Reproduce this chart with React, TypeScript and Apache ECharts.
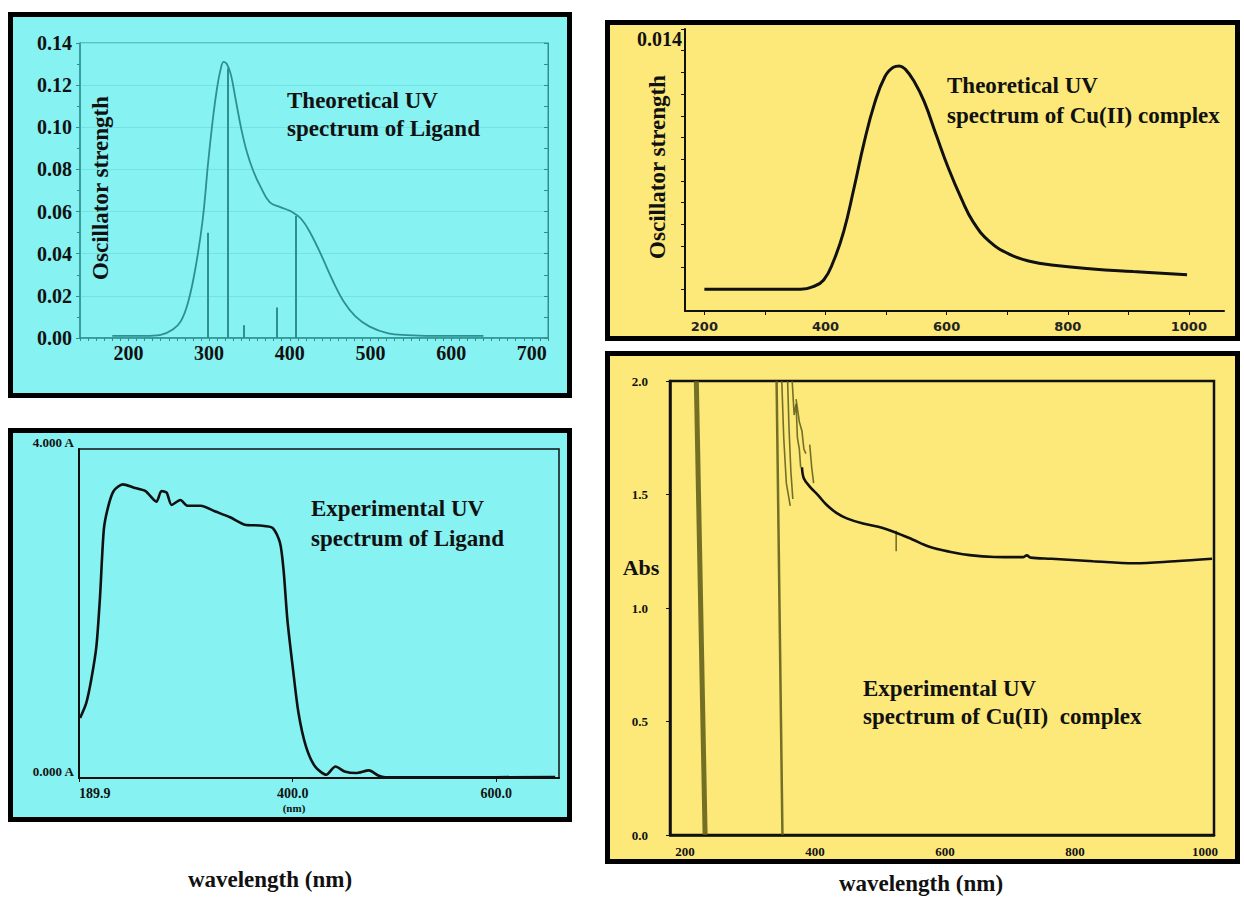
import React, { useEffect, useRef } from 'react';
import * as echarts from 'echarts';

// ---------- Panel 1: Theoretical UV spectrum of Ligand ----------
const ligandTheoCurve: [number, number][] = [
  [180, 0.001], [220, 0.001], [240, 0.0015], [255, 0.004], [265, 0.008], [274, 0.017],
  [283, 0.033], [292, 0.056], [299, 0.084], [305, 0.105], [310, 0.119], [314, 0.127],
  [318, 0.131], [322, 0.130], [327, 0.125], [333, 0.113], [340, 0.099], [347, 0.088],
  [355, 0.079], [364, 0.0716], [375, 0.0645], [389, 0.062], [402, 0.060], [414, 0.0566],
  [426, 0.0495], [440, 0.0385], [453, 0.0274], [467, 0.0172], [481, 0.0104], [499, 0.0054],
  [522, 0.0022], [545, 0.0014], [591, 0.001], [640, 0.001],
];
const ligandSticksX = [298, 323, 343, 384, 408];
const ligandSticksH = [0.05, 0.128, 0.006, 0.0145, 0.058];
const ligTheoXLabels = [200, 300, 400, 500, 600, 700];

// ---------- Panel 2: Theoretical UV spectrum of Cu(II) complex ----------
const cuTheoCurve: [number, number][] = [
  [200, 0.002], [300, 0.002], [359, 0.002], [380, 0.00213], [397, 0.00243], [413, 0.00328],
  [430, 0.00466], [447, 0.00666], [464, 0.0088], [481, 0.01057], [498, 0.0118], [512, 0.01224],
  [522, 0.0123], [532, 0.01214], [546, 0.0116], [563, 0.01065], [583, 0.0091], [603, 0.00758],
  [624, 0.0062], [644, 0.0051], [671, 0.0042], [705, 0.0036], [739, 0.00328], [773, 0.00312],
  [841, 0.00294], [908, 0.00282], [997, 0.00267],
];
const cuTheoXLabels = [200, 400, 600, 800, 1000];
const cuTheoYLabels = [0.014];

// ---------- Panel 3: Experimental UV spectrum of Ligand ----------
const ligandExpCurve: [number, number][] = [
  [191, 0.73], [197, 0.91], [202, 1.2], [207, 1.6], [210.6, 2.21], [214.3, 3.02], [218.6, 3.30],
  [224, 3.49], [233, 3.57], [244, 3.53], [255, 3.49], [266, 3.36], [271, 3.49], [276, 3.47],
  [281, 3.32], [289.5, 3.38], [296.7, 3.31], [309.5, 3.31], [324, 3.24], [338.5, 3.17],
  [353, 3.08], [367.6, 3.07], [380.3, 3.04], [387.5, 2.86], [391, 2.53], [394.8, 1.92],
  [400.3, 1.32], [405.7, 0.79], [413, 0.385], [422, 0.14], [433, 0.04], [442, 0.14],
  [451, 0.08], [462, 0.06], [475, 0.093], [484, 0.03], [491, 0.008], [549, 0.008], [658, 0.012],
];
const ligExpXLabels = [189.9, 400, 600];

// ---------- Panel 4: Experimental UV spectrum of Cu(II) complex ----------
const cuExpCurve: [number, number][] = [
  [380, 1.62], [383, 1.57], [392, 1.535], [405, 1.496], [417, 1.457], [433, 1.419], [449, 1.395],
  [474, 1.372], [499, 1.357], [524, 1.333], [550, 1.302], [575, 1.271], [607, 1.248], [638, 1.233],
  [676, 1.225], [720, 1.224], [726, 1.232], [732, 1.222], [764, 1.217], [828, 1.206], [891, 1.197],
  [954, 1.206], [1011, 1.217],
];
const cuExpSpikes: [number, number][][] = [
  [[217.5, 2.0], [231, 0.0]],
  [[341, 2.0], [350, 0.0]],
  [[349, 2.0], [352, 1.75], [356, 1.55], [362, 1.45]],
  [[358, 2.0], [360, 1.8], [363, 1.6], [366, 1.48]],
  [[365, 2.0], [368, 1.85], [371, 1.9], [373, 1.75], [376, 1.7], [378, 1.62]],
  [[371, 1.92], [376, 1.82], [380, 1.78], [383, 1.7], [386, 1.68]],
  [[392, 1.72], [395, 1.62], [398, 1.55]],
  [[525, 1.34], [525, 1.25]],
];
const cuExpPeakLabels: [number, number, string][] = [
  [361, 1.94, '6'], [377, 1.83, '3'], [395, 1.68, '2'], [525, 1.22, '1'],
];
const cuExpXLabels = [200, 400, 600, 800, 1000];

const TEAL = '#2f8f8f';
const CYAN = '#86f2f2';
const YELLOW = '#fce97a';
const OLIVE = '#5b5a18';
const SERIF = '"Liberation Serif", "Times New Roman", serif';

const range = (a: number, b: number, s: number) => {
  const out: number[] = [];
  for (let v = a; v <= b + 1e-9; v += s) out.push(Math.round(v * 1000) / 1000);
  return out;
};

export default function App() {
  const ref = useRef<HTMLDivElement>(null);

  useEffect(() => {
    if (!ref.current) return;
    const chart = echarts.init(ref.current, undefined, { renderer: 'svg' });

    const bold = { fontFamily: SERIF, fontWeight: 'bold' as const, color: '#111' };
    const plain = (v: number) => String(v);

    const panel = (x: number, y: number, w: number, h: number, fill: string) => ({
      type: 'rect', z: -10, shape: { x, y, width: w, height: h },
      style: { fill, stroke: '#000', lineWidth: 5 },
    });
    const txt = (x: number, y: number, text: string, size: number, extra: any = {}) => ({
      type: 'text', z: 50, x, y,
      style: {
        text, font: `bold ${size}px ${SERIF}`, fill: '#111',
        textAlign: 'left', textVerticalAlign: 'middle', lineHeight: 29, ...extra.style,
      },
      ...extra.el,
    });

    const option: any = {
      animation: false,
      backgroundColor: '#ffffff',
      grid: [
        { left: 80, top: 43, width: 468, height: 295, show: true, borderColor: TEAL, borderWidth: 1, backgroundColor: 'transparent' },
        { left: 685, top: 29, width: 539, height: 282 },
        { left: 79, top: 449, width: 480, height: 329, show: true, borderColor: '#111', borderWidth: 1.5, backgroundColor: 'transparent' },
        { left: 670, top: 381, width: 544, height: 454, show: true, borderColor: '#111', borderWidth: 2.5, backgroundColor: 'transparent' },
      ],
      xAxis: [
        {
          type: 'value', gridIndex: 0, min: 140, max: 720,
          axisLine: { lineStyle: { color: TEAL, width: 1.5 } },
          axisTick: { customValues: range(140, 720, 10), length: 3, lineStyle: { color: TEAL } },
          axisLabel: { customValues: ligTheoXLabels, ...bold, fontSize: 20, margin: 5, formatter: plain },
          splitLine: { show: false },
        },
        {
          type: 'value', gridIndex: 1, min: 168, max: 1058,
          axisLine: { lineStyle: { color: '#111', width: 2 } },
          axisTick: { customValues: range(200, 1000, 100), length: 4, lineStyle: { color: '#111' } },
          axisLabel: {
            customValues: cuTheoXLabels, fontFamily: '"DejaVu Sans", sans-serif', fontWeight: 'bold',
            color: '#222', fontSize: 13, margin: 9, formatter: plain,
          },
          splitLine: { show: false },
        },
        {
          type: 'value', gridIndex: 2, min: 189.9, max: 661.8,
          axisLine: { lineStyle: { color: '#111', width: 2 } },
          axisTick: { customValues: ligExpXLabels, length: 4, lineStyle: { color: '#111' } },
          axisLabel: {
            customValues: ligExpXLabels, ...bold, fontSize: 14, margin: 8, alignMinLabel: 'left',
            formatter: (v: number) => v.toFixed(1),
          },
          splitLine: { show: false },
        },
        {
          type: 'value', gridIndex: 3, min: 177, max: 1014,
          axisLine: { lineStyle: { color: '#111', width: 2.5 } },
          axisTick: { show: false },
          axisLabel: { customValues: cuExpXLabels, ...bold, fontSize: 13, margin: 10, formatter: plain },
          splitLine: { show: false },
        },
      ],
      yAxis: [
        {
          type: 'value', gridIndex: 0, min: 0, max: 0.14, interval: 0.02,
          axisLine: { show: true, lineStyle: { color: TEAL, width: 1.5 } },
          axisTick: { show: true, length: 4, lineStyle: { color: TEAL } },
          minorTick: { show: true, splitNumber: 2, length: 3, lineStyle: { color: TEAL } },
          axisLabel: { ...bold, fontSize: 20, margin: 8, formatter: (v: number) => v.toFixed(2) },
          splitLine: { show: true, lineStyle: { color: '#72e2e2', width: 1 } },
        },
        {
          type: 'value', gridIndex: 0, position: 'right', min: 0, max: 0.14, interval: 0.01,
          axisLine: { show: true, lineStyle: { color: TEAL, width: 1 } },
          axisTick: { show: true, inside: true, length: 4, lineStyle: { color: TEAL } },
          axisLabel: { show: false },
          splitLine: { show: false },
        },
        {
          type: 'value', gridIndex: 1, min: 0.001, max: 0.014,
          axisLine: { show: true, lineStyle: { color: '#111', width: 2 } },
          axisTick: { show: true, customValues: range(0.002, 0.014, 0.001), length: 4, lineStyle: { color: '#111' } },
          axisLabel: {
            customValues: cuTheoYLabels, ...bold, fontSize: 20, margin: 3, verticalAlign: 'top',
            formatter: (v: number) => v.toFixed(3),
          },
          splitLine: { show: false },
        },
        {
          type: 'value', gridIndex: 2, min: 0, max: 4, interval: 4,
          axisLine: { show: true, lineStyle: { color: '#111', width: 2 } },
          axisTick: { show: false },
          axisLabel: {
            ...bold, fontSize: 13, margin: 5, verticalAlign: 'bottom',
            formatter: (v: number) => v.toFixed(3) + ' A',
          },
          splitLine: { show: false },
        },
        {
          type: 'value', gridIndex: 3, min: 0, max: 2, interval: 0.5,
          axisLine: { show: true, lineStyle: { color: '#111', width: 2.5 } },
          axisTick: { show: true, length: 4, lineStyle: { color: '#111' } },
          axisLabel: { ...bold, fontSize: 13, margin: 22, formatter: (v: number) => v.toFixed(1) },
          splitLine: { show: false },
        },
      ],
      series: [
        {
          type: 'line', xAxisIndex: 0, yAxisIndex: 0, data: ligandTheoCurve,
          smooth: 0.4, showSymbol: false,
          lineStyle: { color: TEAL, width: 1.8 },
        },
        {
          type: 'lines', coordinateSystem: 'cartesian2d', xAxisIndex: 0, yAxisIndex: 0,
          data: ligandSticksX.map((x, i) => ({ coords: [[x, 0], [x, ligandSticksH[i]]] })),
          lineStyle: { color: TEAL, width: 2, opacity: 1 },
        },
        {
          type: 'line', xAxisIndex: 1, yAxisIndex: 2, data: cuTheoCurve,
          smooth: 0.45, showSymbol: false,
          lineStyle: { color: '#111', width: 3 },
        },
        {
          type: 'line', xAxisIndex: 2, yAxisIndex: 3, data: ligandExpCurve,
          smooth: 0.25, showSymbol: false,
          lineStyle: { color: '#111', width: 2.6 },
        },
        {
          type: 'lines', coordinateSystem: 'cartesian2d', xAxisIndex: 3, yAxisIndex: 4, polyline: true,
          data: cuExpSpikes.map((c, i) => ({
            coords: c,
            lineStyle: { width: i === 0 ? 5 : i === 1 ? 2.5 : 1.6 },
          })),
          lineStyle: { color: OLIVE, width: 2, opacity: 0.85 },
        },
        {
          type: 'line', xAxisIndex: 3, yAxisIndex: 4, data: cuExpCurve,
          smooth: 0.35, showSymbol: false,
          lineStyle: { color: '#111', width: 2.6 },
        },
        {
          type: 'scatter', xAxisIndex: 3, yAxisIndex: 4, data: cuExpPeakLabels,
          symbolSize: 1, itemStyle: { opacity: 0 },
          label: {
            show: true, position: 'inside', formatter: (p: any) => p.data[2],
            fontSize: 10, fontFamily: SERIF, color: '#333',
          },
        },
      ],
      graphic: [
        panel(10.5, 14.5, 559, 381, CYAN),
        panel(607.5, 22.5, 630, 316, YELLOW),
        panel(10.5, 430.5, 559, 389, CYAN),
        panel(607.5, 353.5, 630, 508, YELLOW),
        txt(287, 86, 'Theoretical UV\nspectrum of Ligand', 23, { style: { textVerticalAlign: 'top', lineHeight: 28 } }),
        txt(947, 70, 'Theoretical UV\nspectrum of Cu(II) complex', 23, { style: { textVerticalAlign: 'top', lineHeight: 30 } }),
        txt(311, 493, 'Experimental UV\nspectrum of Ligand', 23, { style: { textVerticalAlign: 'top', lineHeight: 30 } }),
        txt(863, 674, 'Experimental UV\nspectrum of Cu(II)  complex', 23, { style: { textVerticalAlign: 'top', lineHeight: 28 } }),
        txt(100, 188, 'Oscillator strength', 23, { style: { textAlign: 'center' }, el: { rotation: Math.PI / 2 } }),
        txt(657, 167, 'Oscillator strength', 23, { style: { textAlign: 'center' }, el: { rotation: Math.PI / 2 } }),
        txt(641, 567, 'Abs', 22, { style: { textAlign: 'center' } }),
        txt(294, 808, '(nm)', 11, { style: { textAlign: 'center' } }),
        txt(270, 879, 'wavelength (nm)', 23, { style: { textAlign: 'center' } }),
        txt(921, 883, 'wavelength (nm)', 23, { style: { textAlign: 'center' } }),
      ],
    };

    chart.setOption(option);
    return () => chart.dispose();
  }, []);

  return (
    <div
      ref={ref}
      style={{ position: 'absolute', left: 0, top: 0, width: 1244, height: 898, background: '#fff' }}
    />
  );
}
